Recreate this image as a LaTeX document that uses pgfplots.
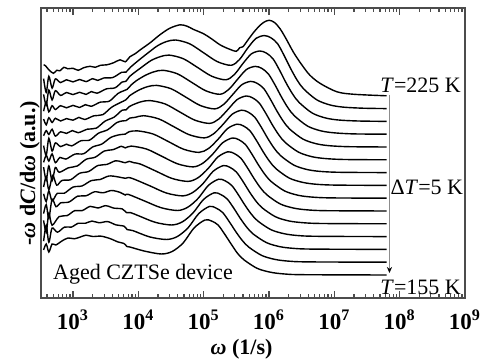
\documentclass[border=0pt]{standalone}
\usepackage{pgfplots}
\pgfplotsset{compat=1.18}
\usepackage{fontspec}
\setmainfont{Liberation Serif}
\usetikzlibrary{arrows.meta}
\begin{document}
\begin{tikzpicture}
\begin{axis}[
  name=ax, scale only axis, width=212pt, height=145pt,
  xmin=2.51, xmax=9, ymin=0, ymax=290,
  axis line style={draw=black!70, line width=0.9pt},
  ytick=\empty,
  xtick={3,4,5,6,7,8,9},
  xticklabels={\textbf{10\textsuperscript{3}},\textbf{10\textsuperscript{4}},\textbf{10\textsuperscript{5}},\textbf{10\textsuperscript{6}},\textbf{10\textsuperscript{7}},\textbf{10\textsuperscript{8}},\textbf{10\textsuperscript{9}}},
  minor xtick={2.602,2.699,2.778,2.845,2.903,2.954,
    3.301,3.477,3.602,3.699,3.778,3.845,3.903,3.954,
    4.301,4.477,4.602,4.699,4.778,4.845,4.903,4.954,
    5.301,5.477,5.602,5.699,5.778,5.845,5.903,5.954,
    6.301,6.477,6.602,6.699,6.778,6.845,6.903,6.954,
    7.301,7.477,7.602,7.699,7.778,7.845,7.903,7.954,
    8.301,8.477,8.602,8.699,8.778,8.845,8.903,8.954},
  tick align=inside, xtick pos=both,
  major tick length=3.5pt, minor tick length=1.8pt,
  tick style={black!70, line width=0.6pt},
  xticklabel style={font=\fontsize{11.5}{13}\selectfont, yshift=-2.5pt},
  xlabel={\textbf{\textit{ω} (1/s)}},
  xlabel style={font=\fontsize{11}{13}\selectfont, at={(axis description cs:0.473,0)}, anchor=base, yshift=-28.5pt},
  ylabel={\textbf{-\textit{ω} d\textit{C}/d\textit{ω} (a.u.)}},
  ylabel style={font=\fontsize{11}{13}\selectfont, at={(axis description cs:-0.014,0.43)}, anchor=base},
  curve/.style={black, line width=0.7pt, smooth, tension=0.5},
]
% T=155 K
\addplot[curve] coordinates {(2.55,48)(2.59,54)(2.63,46)(2.68,54)(2.7375,53)(2.83,57)(2.925,60)(3.02,59.2)(3.1125,61)(3.2,62.8)(3.30,61.5)(3.43,61.8)(3.5625,59.5)(3.69,56)(3.78,54.5)(3.825,51.5)(3.87,51)(4.0875,47)(4.35,44)(4.5175,46.5)(4.685,55)(4.8525,70)(5.02,78)(5.12,77)(5.22,73)(5.32,64)(5.42,54)(5.52,44.5)(5.62,38)(5.82,29.6)(6.02,25.8)(6.22,24.1)(6.52,23.3)(7.8,23)};
% 160 K
\addplot[curve] coordinates {(2.55,56.8)(2.59,72.8)(2.63,55.7)(2.68,69.9)(2.7625,65.8)(2.87,70.9)(2.975,70.9)(3.08,74.7)(3.1875,74.7)(3.29,76.9)(3.40,75.2)(3.53,76.4)(3.6575,73.1)(3.78,71.8)(3.83,68.4)(3.915,67.4)(4.1725,61.1)(4.43,58.5)(4.595,61.4)(4.76,70.1)(4.925,84.4)(5.09,91.6)(5.19,89.9)(5.29,85.5)(5.39,76.5)(5.49,66.5)(5.59,57.6)(5.69,50.9)(5.89,42.5)(6.09,38.6)(6.29,36.9)(6.59,36.1)(7.8,35.8)};
% 165 K
\addplot[curve] coordinates {(2.55,77.6)(2.59,65.6)(2.63,84.6)(2.68,72.8)(2.7875,81.4)(2.91,82.4)(3.025,87.3)(3.14,87.4)(3.2625,91.6)(3.38,90)(3.50,92.3)(3.63,89.8)(3.7525,89.1)(3.82,85.4)(3.88,85.4)(4.005,82.2)(4.2575,75.7)(4.51,73)(4.6725,76.1)(4.835,84.9)(4.9975,98.5)(5.16,105.2)(5.26,103.5)(5.36,99)(5.46,89.9)(5.56,79.7)(5.66,70.7)(5.76,63.9)(5.96,55.4)(6.16,51.4)(6.36,49.7)(6.66,48.9)(7.8,48.6)};
% 170 K
\addplot[curve] coordinates {(2.55,84.4)(2.59,93.4)(2.63,79.5)(2.68,98.8)(2.74,91.3)(2.81,95.1)(2.94,96)(3.07,101.8)(3.20,102.2)(3.33,106.2)(3.46,105.2)(3.59,107.5)(3.72,105.6)(3.80,103)(3.8425,103.7)(4.095,97)(4.3475,90.3)(4.60,87.5)(4.7575,90.8)(4.915,99.6)(5.0725,112.6)(5.23,118.8)(5.33,117.1)(5.43,112.5)(5.53,103.3)(5.63,93)(5.73,83.8)(5.83,76.9)(6.03,68.3)(6.23,64.3)(6.43,62.5)(6.73,61.7)(7.8,61.4)};
% 175 K
\addplot[curve] coordinates {(2.55,104.2)(2.59,96.4)(2.63,107.1)(2.68,97.1)(2.76,104.7)(2.865,104.7)(3.00,110.9)(3.14,112.1)(3.28,117.4)(3.415,118.5)(3.55,122)(3.69,121.1)(3.80,119.7)(3.85,120.5)(3.9375,118.8)(4.185,111.9)(4.4325,104.9)(4.68,102.1)(4.835,105.6)(4.99,114.4)(5.145,126.7)(5.30,132.4)(5.40,130.7)(5.50,126)(5.60,116.7)(5.70,106.2)(5.80,96.9)(5.90,89.9)(6.10,81.2)(6.30,77.1)(6.50,75.4)(6.80,74.5)(7.8,74.2)};
% 180 K
\addplot[curve] coordinates {(2.55,111)(2.59,121.1)(2.63,108.3)(2.69,122.5)(2.75,112.8)(2.83,117.5)(2.965,118.3)(3.10,124.7)(3.24,126.5)(3.38,132.5)(3.515,133.5)(3.65,137.2)(3.74,136.2)(3.80,135.3)(3.86,136.6)(3.93,135.3)(4.0325,133.9)(4.275,126.7)(4.5175,119.5)(4.76,116.6)(4.9125,120.2)(5.065,129.2)(5.2175,141)(5.37,146.2)(5.47,144.4)(5.57,139.7)(5.67,130.2)(5.77,119.6)(5.87,110.1)(5.97,103)(6.17,94.1)(6.37,90)(6.57,88.2)(6.87,87.3)(7.8,87)};
% 185 K
\addplot[curve] coordinates {(2.55,130.8)(2.59,118)(2.63,132.1)(2.68,117.3)(2.73,130.5)(2.79,125.7)(2.93,130.2)(3.065,132)(3.20,138.7)(3.34,140.8)(3.48,147)(3.615,148.4)(3.74,151.7)(3.80,150.1)(3.89,151.9)(4.1275,148.9)(4.365,141.5)(4.6025,134.1)(4.84,131.1)(4.99,134.9)(5.14,144)(5.29,155.2)(5.44,160)(5.54,158.2)(5.64,153.4)(5.74,143.7)(5.84,132.9)(5.94,123.3)(6.04,116.1)(6.24,107)(6.44,102.8)(6.64,101)(6.94,100.1)(7.8,99.8)};
% 190 K
\addplot[curve] coordinates {(2.55,135.6)(2.59,142.7)(2.63,136.9)(2.68,144.1)(2.73,135.3)(2.80,140.6)(2.89,138.9)(3.03,143.9)(3.165,144.3)(3.30,151)(3.44,153.9)(3.58,160.6)(3.715,163.3)(3.80,163.9)(3.86,166.3)(3.99,167.1)(4.225,164)(4.46,156.4)(4.695,148.7)(4.93,145.6)(5.075,149.5)(5.22,158.7)(5.365,169.4)(5.51,173.8)(5.61,172)(5.71,167.1)(5.81,157.3)(5.91,146.3)(6.01,136.5)(6.11,129.1)(6.31,119.9)(6.51,115.7)(6.71,113.8)(7.01,112.9)(7.8,112.6)};
% 195 K
\addplot[curve] coordinates {(2.55,152.4)(2.59,142.6)(2.63,159.7)(2.68,146.9)(2.73,155.1)(2.81,151.4)(2.90,153.8)(2.98,152.1)(3.12,157.2)(3.255,157.9)(3.39,164.8)(3.53,168.2)(3.67,175.4)(3.76,177.1)(3.81,177.3)(3.87,179.9)(3.95,180.6)(4.08,182.3)(4.3125,179.1)(4.545,171.2)(4.7775,163.3)(5.01,160.1)(5.1525,164.2)(5.295,173.5)(5.4375,183.8)(5.58,187.8)(5.68,185.9)(5.78,180.9)(5.88,171)(5.98,159.7)(6.08,149.7)(6.18,142.2)(6.38,132.9)(6.58,128.5)(6.78,126.6)(7.08,125.7)(7.8,125.4)};
% 200 K
\addplot[curve] coordinates {(2.55,162.2)(2.59,167.4)(2.63,163.5)(2.68,168.7)(2.73,161.9)(2.81,166.2)(2.90,164.6)(2.99,167.4)(3.08,165.3)(3.22,168.8)(3.355,169.8)(3.49,176.8)(3.63,180.9)(3.75,187.7)(3.81,188.1)(3.86,191.3)(3.905,192.9)(4.04,196.2)(4.18,197.4)(4.4075,194.1)(4.635,186)(4.8625,177.9)(5.09,174.6)(5.23,178.9)(5.37,188.4)(5.51,198.3)(5.65,202)(5.75,200.1)(5.85,195)(5.95,184.8)(6.05,173.3)(6.15,163.1)(6.25,155.4)(6.45,145.9)(6.65,141.4)(6.85,139.5)(7.15,138.5)(7.8,138.2)};
% 205 K
\addplot[curve] coordinates {(2.55,179)(2.59,173.2)(2.63,180.3)(2.68,175.5)(2.73,179.7)(2.81,177)(2.90,179.4)(3.00,177.8)(3.09,180.6)(3.18,178.5)(3.32,182.2)(3.455,183.3)(3.59,190.7)(3.73,195.6)(3.81,198.2)(3.87,202.4)(4.005,207.8)(4.14,211.3)(4.28,212.6)(4.5025,209.2)(4.725,200.9)(4.9475,192.5)(5.17,189.1)(5.3075,193.7)(5.445,203.5)(5.5825,213.2)(5.72,216.6)(5.82,214.6)(5.92,209.4)(6.02,198.9)(6.12,187.1)(6.22,176.6)(6.32,168.7)(6.52,158.9)(6.72,154.3)(6.92,152.3)(7.22,151.3)(7.8,151)};
% 210 K
\addplot[curve] coordinates {(2.55,186.8)(2.59,196)(2.63,186.1)(2.68,192.3)(2.73,188.5)(2.81,192.3)(2.90,190.2)(3.00,192.6)(3.10,190.5)(3.19,193.3)(3.28,191.7)(3.42,195.9)(3.555,196.8)(3.69,204.6)(3.78,207.3)(3.83,208.7)(3.89,213)(3.97,217.3)(4.105,222.6)(4.24,226.2)(4.38,227.7)(4.5975,224.2)(4.815,215.7)(5.0325,207.2)(5.25,203.7)(5.385,208.6)(5.52,218.8)(5.655,228.5)(5.79,231.6)(5.89,229.6)(5.99,224.1)(6.09,213.3)(6.19,201.1)(6.29,190.2)(6.39,182.1)(6.59,171.9)(6.79,167.2)(6.99,165.2)(7.29,164.1)(7.8,163.8)};
% 215 K
\addplot[curve] coordinates {(2.55,203.6)(2.59,192.8)(2.63,207.9)(2.68,198.1)(2.73,207.3)(2.81,202.6)(2.90,205.5)(3.00,203.4)(3.10,205.7)(3.20,203.6)(3.28,206.4)(3.37,204.8)(3.51,209.1)(3.645,210.2)(3.75,215.9)(3.81,216.7)(3.86,221)(3.92,224.4)(4.06,231.2)(4.195,237.5)(4.33,241.2)(4.47,242.9)(4.6875,239.3)(4.905,230.6)(5.1225,221.8)(5.34,218.2)(5.47,223.5)(5.60,234.4)(5.73,244.1)(5.86,247)(5.96,244.9)(6.06,239.3)(6.16,228)(6.26,215.3)(6.36,204.1)(6.46,195.6)(6.66,185)(6.86,180.1)(7.06,178)(7.36,177)(7.8,176.6)};
% 220 K
\addplot[curve] coordinates {(2.55,219.4)(2.59,205.6)(2.63,221.7)(2.68,209.9)(2.73,219.1)(2.81,215.4)(2.90,218.2)(3.00,216.1)(3.10,218.5)(3.20,216.4)(3.30,219.3)(3.38,217.6)(3.47,220)(3.61,220.5)(3.745,225.7)(3.81,225.9)(3.88,230.8)(4.02,238.5)(4.16,245.7)(4.295,252.3)(4.43,256.4)(4.57,258)(4.7825,254.3)(4.995,245.4)(5.2075,236.4)(5.42,232.7)(5.5475,238.4)(5.675,250)(5.8025,259.7)(5.93,262.4)(6.03,260.2)(6.13,254.4)(6.23,242.7)(6.33,229.6)(6.43,217.9)(6.53,209.1)(6.73,198.2)(6.93,193.1)(7.13,190.9)(7.43,189.8)(7.8,189.4)};
% T=225 K
\addplot[curve] coordinates {(2.55,233.2)(2.58,232.2)(2.63,228.2)(2.70,224.7)(2.75,227.7)(2.80,227.2)(2.86,230.7)(2.92,229.2)(3.00,229.7)(3.08,227.7)(3.16,230.2)(3.26,231.7)(3.34,230.7)(3.42,232.7)(3.52,233.2)(3.62,235.2)(3.72,238.2)(3.80,236.2)(3.87,241.2)(3.95,244.2)(4.03,248.2)(4.18,255.2)(4.33,263.2)(4.48,269.7)(4.64,273.2)(4.75,271.7)(4.84,268.7)(5.00,264.2)(5.12,259.2)(5.25,253.2)(5.38,249.2)(5.50,246.7)(5.55,250.2)(5.60,251.2)(5.68,258.2)(5.76,265.2)(5.84,271.2)(5.92,275.7)(6.00,277.7)(6.08,275.7)(6.17,269.2)(6.27,258.2)(6.37,246.2)(6.48,235.2)(6.62,223.2)(6.78,214.7)(7.04,206.2)(7.30,203.7)(7.8,202.2)};
\draw[black!45, line width=0.6pt, -{Stealth[length=3pt,width=2.6pt,black]}] (axis cs:7.844,203) -- (axis cs:7.844,25);
\node[anchor=base west, inner sep=0pt, font=\fontsize{11}{13}\selectfont] at (axis cs:7.70,205.5) {\textit{T}=225 K};
\node[anchor=base west, inner sep=0pt, font=\fontsize{11}{13}\selectfont] at (axis cs:7.855,103.5) {Δ\textit{T}=5 K};
\node[anchor=base west, inner sep=0pt, font=\fontsize{11}{13}\selectfont] at (axis cs:7.70,3.5) {\textit{T}=155 K};
\node[anchor=base west, inner sep=0pt, font=\fontsize{11}{13}\selectfont] at (axis cs:2.69,18) {Aged CZTSe device};
\end{axis}
\pgfresetboundingbox
\path[use as bounding box] ([shift={(-20.5pt,-32.5pt)}]ax.south west) rectangle ([shift={(10pt,4pt)}]ax.north east);
\end{tikzpicture}
\end{document}
